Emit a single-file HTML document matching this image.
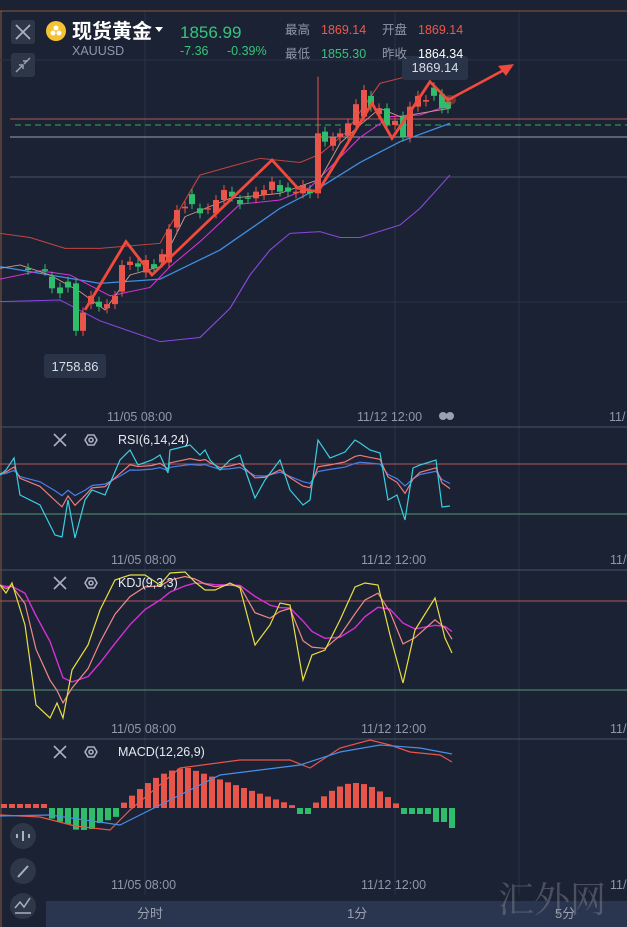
<!DOCTYPE html><html><head><meta charset="utf-8"><style>
body{margin:0;width:627px;height:927px;overflow:hidden;background:#1b2234;font-family:"Liberation Sans","Noto Sans CJK SC",sans-serif}
svg{position:absolute;left:0;top:0}
</style></head><body>
<svg id="s" width="627" height="927" viewBox="0 0 627 927" xmlns="http://www.w3.org/2000/svg" font-family="Liberation Sans, Noto Sans CJK SC, sans-serif">
<rect width="627" height="927" fill="#1b2234"/>
<line x1="0" y1="11" x2="627" y2="11" stroke="#8a5a3a" stroke-width="1"/>
<line x1="1" y1="11" x2="1" y2="927" stroke="#8a5a3a" stroke-width="1"/>
<g stroke="#2a3346" stroke-width="1">
<line x1="145" y1="12" x2="145" y2="895"/><line x1="395" y1="12" x2="395" y2="895"/><line x1="519" y1="12" x2="519" y2="895"/>
<line x1="0" y1="60" x2="627" y2="60"/><line x1="0" y1="302" x2="627" y2="302"/>
</g>
<g stroke="#4a5366" stroke-width="1"><line x1="0" y1="427" x2="627" y2="427"/><line x1="0" y1="570" x2="627" y2="570"/><line x1="0" y1="739" x2="627" y2="739"/></g>
<line x1="10" y1="119" x2="627" y2="119" stroke="#b0555a"/>
<line x1="15" y1="125" x2="627" y2="125" stroke="#3aa860" stroke-dasharray="6,4"/>
<line x1="10" y1="137" x2="627" y2="137" stroke="#9aa0ad"/>
<line x1="10" y1="177" x2="627" y2="177" stroke="#4a5366"/>
<line x1="0" y1="464" x2="627" y2="464" stroke="#b0555a"/><line x1="0" y1="514" x2="627" y2="514" stroke="#4f9a70"/>
<line x1="0" y1="601" x2="627" y2="601" stroke="#b0555a"/><line x1="0" y1="690" x2="627" y2="690" stroke="#4f9a70"/>
<g transform="scale(1,0.8333)">
<g fill="none" stroke-width="1.2">
<polyline stroke="#c0453f" points="0,280 30,285 65,298 100,298 160,292 168,275 200,210 230,200 260,190 300,195 320,185 345,160 380,100 420,88 450,95"/>
<polyline stroke="#3f8ee0" stroke-width="1.5" points="0,320 50,330 100,340 160,335 220,300 280,250 320,225 360,195 400,170 450,148"/>
<polyline stroke="#8a48e0" points="0,362 60,360 100,385 160,410 200,405 230,370 250,330 270,300 290,280 320,278 340,285 360,285 400,270 420,250 450,210"/>
<polyline stroke="#d630d6" points="0,335 40,325 70,330 110,355 150,345 170,320 200,290 240,245 280,240 310,225 360,165 390,140 420,138 440,130 450,128"/>
<polyline stroke="#d09a8a" stroke-width="1" points="0,322 20,318 50,330 80,350 105,372 130,330 160,320 185,260 230,238 280,232 320,215 340,172 360,150 380,130 400,140 420,136 450,130"/>
</g>
<g id="candles"></g>
<g fill="none" stroke="#f04a3c" stroke-width="3" stroke-linejoin="miter">
<polyline points="85,372 126,290 152,330 272,192 298,226 318,230 372,124 392,166 408,138 430,98 448,120 510,80"/>
</g>
<polygon points="514,77 498,79 506,91" fill="#f04a3c"/>
<circle cx="450" cy="120" r="6" fill="#f04a3c" opacity="0.4"/>
</g>
<rect x="402" y="56" width="66" height="24" rx="3" fill="#2a3448"/>
<text x="435" y="72" fill="#d8dde8" font-size="13" text-anchor="middle">1869.14</text>
<rect x="44" y="354" width="62" height="24" rx="3" fill="#2a3448"/>
<text x="75" y="371" fill="#d8dde8" font-size="13" text-anchor="middle">1758.86</text>
<g fill="#8f97a8" font-size="12.5">
<text x="107" y="421">11/05 08:00</text><text x="357" y="421">11/12 12:00</text><text x="609" y="421">11/</text>
<text x="111" y="564">11/05 08:00</text><text x="361" y="564">11/12 12:00</text><text x="610" y="564">11/</text>
<text x="111" y="733">11/05 08:00</text><text x="361" y="733">11/12 12:00</text><text x="610" y="733">11/</text>
<text x="111" y="889">11/05 08:00</text><text x="361" y="889">11/12 12:00</text><text x="610" y="889">11/</text>
</g>
<circle cx="443" cy="416" r="4" fill="#9aa0ad"/><circle cx="450" cy="416" r="4" fill="#9aa0ad"/>
<g id="ind"></g>
<rect x="11" y="20" width="24" height="24" rx="3" fill="#2e3748"/>
<path d="M16 25 L30 39 M30 25 L16 39" stroke="#aab0bc" stroke-width="1.8"/>
<rect x="11" y="53" width="24" height="24" rx="3" fill="#2e3748"/>
<path d="M16 72 L22 66 M30 58 L24 64 M19 65 L23 65 L23 69 M27 61 L23 61" stroke="#9aa0ad" stroke-width="1.5" fill="none"/>
<circle cx="56" cy="31" r="10" fill="#f5c232"/>
<circle cx="53" cy="33" r="2.5" fill="#fff"/><circle cx="59" cy="33" r="2.5" fill="#fff"/><circle cx="56" cy="28" r="2.5" fill="#fff"/>
<text x="72" y="38" fill="#fff" font-size="20" font-weight="bold">现货黄金</text>
<path d="M155 27 L163 27 L159 32Z" fill="#fff"/>
<text x="72" y="55" fill="#8f97a8" font-size="12.5">XAUUSD</text>
<text x="180" y="38" fill="#35c57a" font-size="17">1856.99</text>
<text x="180" y="55" fill="#35c57a" font-size="12.5">-7.36</text><text x="227" y="55" fill="#35c57a" font-size="12.5">-0.39%</text>
<g font-size="12.5"><text x="285" y="34" fill="#8f97a8">最高</text><text x="321" y="34" fill="#f0574a">1869.14</text>
<text x="382" y="34" fill="#8f97a8">开盘</text><text x="418" y="34" fill="#f0574a">1869.14</text>
<text x="285" y="58" fill="#8f97a8">最低</text><text x="321" y="58" fill="#35c57a">1855.30</text>
<text x="382" y="58" fill="#8f97a8">昨收</text><text x="418" y="58" fill="#fff">1864.34</text></g>
<g stroke="#aab0bc" stroke-width="1.6" fill="none">
<path d="M54 434 L66 446 M66 434 L54 446"/><path d="M54 577 L66 589 M66 577 L54 589"/><path d="M54 746 L66 758 M66 746 L54 758"/>
<polygon points="85,440 88,435 94,435 97,440 94,445 88,445"/><circle cx="91" cy="440" r="2"/>
<polygon points="85,583 88,578 94,578 97,583 94,588 88,588"/><circle cx="91" cy="583" r="2"/>
<polygon points="85,752 88,747 94,747 97,752 94,757 88,757"/><circle cx="91" cy="752" r="2"/>
</g>
<g fill="#e6e9f0" font-size="12.5"><text x="118" y="444">RSI(6,14,24)</text><text x="118" y="587">KDJ(9,3,3)</text><text x="118" y="756">MACD(12,26,9)</text></g>
<circle cx="23" cy="836" r="13" fill="#2e3748"/><circle cx="23" cy="871" r="13" fill="#2e3748"/><circle cx="23" cy="906" r="13" fill="#2e3748"/>
<g stroke="#aab0bc" stroke-width="2" fill="none"><path d="M17 838v-4M23 841v-10M29 838v-4"/><path d="M18 877 L28 866"/><path d="M15 908 L20 902 L24 907 L30 898 M15 913 H31" stroke-width="1.5"/></g>
<rect x="46" y="901" width="581" height="26" fill="#2a3550"/>
<g fill="#9aa0ad" font-size="13"><text x="137" y="918">分时</text><text x="347" y="918">1分</text><text x="555" y="918">5分</text></g>
<text x="498" y="912" fill="#7a7f88" opacity="0.5" font-size="36" font-family="Noto Serif CJK SC, serif">汇外网</text>
</svg>
<script>
var NS="http://www.w3.org/2000/svg";
function el(p,t,a){var e=document.createElementNS(NS,t);for(var k in a)e.setAttribute(k,a[k]);p.appendChild(e);return e;}
var R="#e8554a",G="#2ebd6b";
var c=[[28,322,324],[45,323,325],[52,332,346],[60,345,352],[68,338,345],[76,340,397],[83,397,375],[91,365,355],[99,362,368],[107,370,365],[115,365,355],[122,350,318],[130,318,314],[138,316,320],[146,327,312],[154,317,322],[162,315,305],[169,315,275],[177,273,252],[185,250,248],[192,233,245],[200,250,256],[208,251,250],[216,256,240],[224,240,228],[232,230,236],[240,240,245],[248,237,238],[256,238,230],[264,234,228],[272,228,218],[280,222,230],[288,225,230],[296,232,230],[303,232,222],[310,228,232],[318,232,160],[325,158,170],[333,175,165],[340,165,160],[348,163,148],[356,150,125],[364,140,108],[371,115,128],[379,137,130],[387,130,150],[395,150,145],[403,140,164],[410,165,128],[418,128,115],[426,122,120],[434,105,115],[442,113,130],[448,122,130]];
var g=document.getElementById("candles");
c.forEach(function(d){var up=d[2]<d[1];var col=up?R:G;var t=Math.min(d[1],d[2]),b=Math.max(d[1],d[2]);
el(g,"line",{x1:d[0],x2:d[0],y1:t-6,y2:b+6,stroke:col,"stroke-width":1});
el(g,"rect",{x:d[0]-3,y:t,width:6,height:Math.max(1.5,b-t),fill:col});});
el(g,"line",{x1:318,x2:318,y1:92,y2:232,stroke:R});
var ind=document.getElementById("ind");
function pl(pts,col,w){el(ind,"polyline",{points:pts.map(function(p){return p[0]+","+p[1]}).join(" "),fill:"none",stroke:col,"stroke-width":w||1.2});}
function smooth(pts,a){var o=[],v=pts[0][1];pts.forEach(function(p){v=v+a*(p[1]-v);o.push([p[0],v]);});return o;}
var rsi=[[0,475],[6,470],[14,458],[20,495],[40,505],[55,535],[62,537],[68,500],[75,538],[85,500],[92,490],[105,495],[120,460],[130,450],[138,465],[152,460],[160,455],[168,473],[170,450],[190,445],[200,455],[205,450],[210,460],[220,470],[230,460],[240,455],[255,498],[265,480],[280,460],[290,490],[303,505],[310,500],[318,440],[330,458],[345,452],[355,440],[360,443],[370,450],[380,453],[388,500],[397,495],[405,520],[413,468],[420,465],[436,460],[442,507],[450,506]];
var rp=rsi.map(function(p){return [p[0],472+(p[1]-472)*0.6]});
var rb=rsi.map(function(p){return [p[0],474+(p[1]-474)*0.42]});
pl(smooth(rb,0.5),"#4a7fe8");pl(smooth(rp,0.6),"#f07a78");pl(rsi,"#38d0e0");
var j=[[0,585],[6,593],[12,583],[25,625],[36,705],[50,718],[57,703],[63,718],[72,670],[88,645],[100,610],[115,580],[130,575],[145,575],[160,585],[170,573],[185,572],[195,582],[205,590],[215,590],[230,583],[240,588],[255,645],[270,625],[280,603],[290,605],[303,680],[312,655],[325,650],[340,620],[355,587],[365,583],[378,585],[390,635],[403,683],[415,630],[435,598],[445,638],[452,653]];
var k=smooth(j,0.45),dd=smooth(k,0.4);
pl(dd,"#d630d6",1.4);pl(k,"#f08a88");pl(j,"#e8e040");
var z=808;
for(var x=4;x<=452;x+=8){var v;
if(x<46)v=-4;else if(x<118)v=8+10*Math.sin((x-46)/72*Math.PI)+(x>70&&x<95?4:0);
else if(x<300)v=-(40*Math.sin(Math.min(1,(x-118)/70)*Math.PI/2)*(x<188?1:Math.max(0.05,1-(x-188)/112)));
else if(x<313)v=6;else if(x<398)v=-(22*Math.sin((x-313)/85*Math.PI)+3);else v=6+(x>435?8:0)+(x>445?6:0);
var col=v<0?R:G;el(ind,"rect",{x:x-3,y:v<0?z+v:z,width:6,height:Math.abs(v),fill:col});}
pl([[0,815],[40,817],[75,826],[110,830],[130,810],[180,768],[240,760],[290,760],[310,768],[340,748],[370,740],[390,745],[410,752],[440,755],[452,762]],"#e8554a");
pl([[0,816],[50,815],[120,825],[170,800],[220,775],[300,765],[340,752],[380,745],[420,748],[452,754]],"#4a8ee8");
</script>
</body></html>
